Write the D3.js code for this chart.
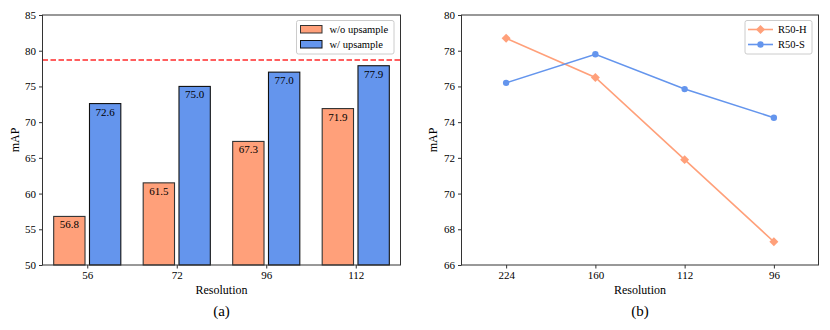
<!DOCTYPE html>
<html>
<head>
<meta charset="utf-8">
<script src="https://cdn.jsdelivr.net/npm/d3@7"></script>
<style>
  html, body { margin: 0; padding: 0; background: #fff; }
  svg { display: block; }
  svg text { font-family: "Liberation Serif", "DejaVu Serif", serif; fill: #000; }
  .tick text { font-size: 11px; }
  .tick line { stroke: #333; }
</style>
</head>
<body>
<svg id="chart" width="830" height="330"></svg>
<script>
// ---- data ----
const resolutionsA = ["56", "72", "96", "112"];
const withoutUpsample = [56.8, 61.5, 67.3, 71.9];
const withUpsample = [72.6, 75.0, 77.0, 77.9];
const baselineMAP = 78.7;
const yTicksA = [50, 55, 60, 65, 70, 75, 80, 85];

const resolutionsB = ["224", "160", "112", "96"];
const r50H = [78.7, 76.5, 71.9, 67.3];
const r50S = [76.2, 77.8, 75.85, 74.25];
const yTicksB = [66, 68, 70, 72, 74, 76, 78, 80];

const ORANGE = "#FFA07A";
const BLUE = "#6495ED";
const SPINE = "#333";

const svg = d3.select("#chart");

function frame(g, x0, x1, y0, y1) {
  g.append("rect")
    .attr("x", x0).attr("y", y0)
    .attr("width", x1 - x0).attr("height", y1 - y0)
    .attr("fill", "none").attr("stroke", SPINE).attr("stroke-width", 1);
}

function axes(g, x, y, xLabels, yTicks, x0, x1, y0, y1, yFmt) {
  const xa = g.append("g").attr("transform", `translate(0,${y1})`)
    .call(d3.axisBottom(x).tickValues(d3.range(xLabels.length))
      .tickFormat(i => xLabels[i]).tickSize(3.5).tickPadding(3));
  xa.select(".domain").remove();
  const ya = g.append("g").attr("transform", `translate(${x0},0)`)
    .call(d3.axisLeft(y).tickValues(yTicks).tickFormat(yFmt).tickSize(3.5).tickPadding(3));
  ya.select(".domain").remove();
  frame(g, x0, x1, y0, y1);
}

// ---- panel (a) ----
{
  const x0 = 42.5, x1 = 400.5, y0 = 15, y1 = 265;
  const g = svg.append("g");
  const x = d3.scaleLinear().domain([-0.5, 3.5]).range([x0, x1]);
  const y = d3.scaleLinear().domain([50, 85]).range([y1, y0]);
  const bw = x(0.35) - x(0);

  const series = [
    { vals: withoutUpsample, off: -0.2, fill: ORANGE, edge: "#333" },
    { vals: withUpsample, off: 0.2, fill: BLUE, edge: "#111" }
  ];
  series.forEach(s => {
    const bars = g.append("g");
    bars.selectAll("rect").data(s.vals).join("rect")
      .attr("x", (d, i) => x(i + s.off) - bw / 2)
      .attr("y", d => y(d))
      .attr("width", bw)
      .attr("height", d => y(50) - y(d))
      .attr("fill", s.fill)
      .attr("stroke", s.edge)
      .attr("stroke-width", 1.1);
    bars.selectAll("text").data(s.vals).join("text")
      .attr("x", (d, i) => x(i + s.off))
      .attr("y", d => y(d) + 12)
      .attr("text-anchor", "middle")
      .attr("font-size", 11)
      .text(d => d.toFixed(1));
  });

  g.append("line")
    .attr("x1", x0).attr("x2", x1)
    .attr("y1", y(baselineMAP)).attr("y2", y(baselineMAP))
    .attr("stroke", "#ff2a2a").attr("stroke-width", 1.6)
    .attr("stroke-dasharray", "5.5,2.5");

  axes(g, x, y, resolutionsA, yTicksA, x0, x1, y0, y1, d3.format("d"));

  // legend
  const lg = g.append("g").attr("transform", "translate(296.5,20.5)");
  lg.append("rect").attr("width", 97.5).attr("height", 33.5).attr("rx", 2)
    .attr("fill", "#fff").attr("fill-opacity", 0.8).attr("stroke", "#ccc");
  [["w/o upsample", ORANGE, "#333"], ["w/ upsample", BLUE, "#111"]].forEach(([t, c, e], i) => {
    lg.append("rect").attr("x", 4).attr("y", 5 + i * 15).attr("width", 21.5).attr("height", 7.5)
      .attr("fill", c).attr("stroke", e).attr("stroke-width", 1);
    lg.append("text").attr("x", 33).attr("y", 12.5 + i * 15).attr("font-size", 10.5).text(t);
  });

  g.append("text").attr("x", (x0 + x1) / 2).attr("y", 294)
    .attr("text-anchor", "middle").attr("font-size", 12).text("Resolution");
  g.append("text").attr("x", (x0 + x1) / 2).attr("y", 316)
    .attr("text-anchor", "middle").attr("font-size", 15).text("(a)");
  g.append("text").attr("transform", `translate(19,${(y0 + y1) / 2}) rotate(-90)`)
    .attr("text-anchor", "middle").attr("font-size", 12).text("mAP");
}

// ---- panel (b) ----
{
  const x0 = 461.5, x1 = 818.5, y0 = 15, y1 = 265;
  const g = svg.append("g");
  const x = d3.scaleLinear().domain([-0.5, 3.5]).range([x0, x1]);
  const y = d3.scaleLinear().domain([66, 80]).range([y1, y0]);
  const line = d3.line().x((d, i) => x(i)).y(d => y(d));

  const diamond = d3.symbol().type(d3.symbolSquare).size(40);

  function drawH(grp, pts) {
    grp.append("path").datum(pts).attr("d", line)
      .attr("fill", "none").attr("stroke", ORANGE).attr("stroke-width", 1.6);
    grp.selectAll("path.m").data(pts).join("path").attr("class", "m")
      .attr("d", diamond)
      .attr("transform", (d, i) => `translate(${x(i)},${y(d)}) rotate(45)`)
      .attr("fill", ORANGE);
  }
  function drawS(grp, pts) {
    grp.append("path").datum(pts).attr("d", line)
      .attr("fill", "none").attr("stroke", BLUE).attr("stroke-width", 1.6);
    grp.selectAll("circle").data(pts).join("circle")
      .attr("cx", (d, i) => x(i)).attr("cy", d => y(d)).attr("r", 3.2)
      .attr("fill", BLUE);
  }
  drawH(g.append("g"), r50H);
  drawS(g.append("g"), r50S);

  axes(g, x, y, resolutionsB, yTicksB, x0, x1, y0, y1, d3.format("d"));

  const lg = g.append("g").attr("transform", "translate(745,20.5)");
  lg.append("rect").attr("width", 67).attr("height", 33.5).attr("rx", 2)
    .attr("fill", "#fff").attr("fill-opacity", 0.8).attr("stroke", "#ccc");
  [["R50-H", ORANGE, "d"], ["R50-S", BLUE, "o"]].forEach(([t, c, m], i) => {
    const cy = 9 + i * 15;
    lg.append("line").attr("x1", 3).attr("x2", 28).attr("y1", cy).attr("y2", cy)
      .attr("stroke", c).attr("stroke-width", 1.6);
    if (m === "d") {
      lg.append("path").attr("d", diamond)
        .attr("transform", `translate(15.5,${cy}) rotate(45)`).attr("fill", c);
    } else {
      lg.append("circle").attr("cx", 15.5).attr("cy", cy).attr("r", 3.2).attr("fill", c);
    }
    lg.append("text").attr("x", 33).attr("y", cy + 3.5).attr("font-size", 10.5).text(t);
  });

  g.append("text").attr("x", (x0 + x1) / 2).attr("y", 294)
    .attr("text-anchor", "middle").attr("font-size", 12).text("Resolution");
  g.append("text").attr("x", (x0 + x1) / 2).attr("y", 316)
    .attr("text-anchor", "middle").attr("font-size", 15).text("(b)");
  g.append("text").attr("transform", `translate(437,${(y0 + y1) / 2}) rotate(-90)`)
    .attr("text-anchor", "middle").attr("font-size", 12).text("mAP");
}
</script>
</body>
</html>
